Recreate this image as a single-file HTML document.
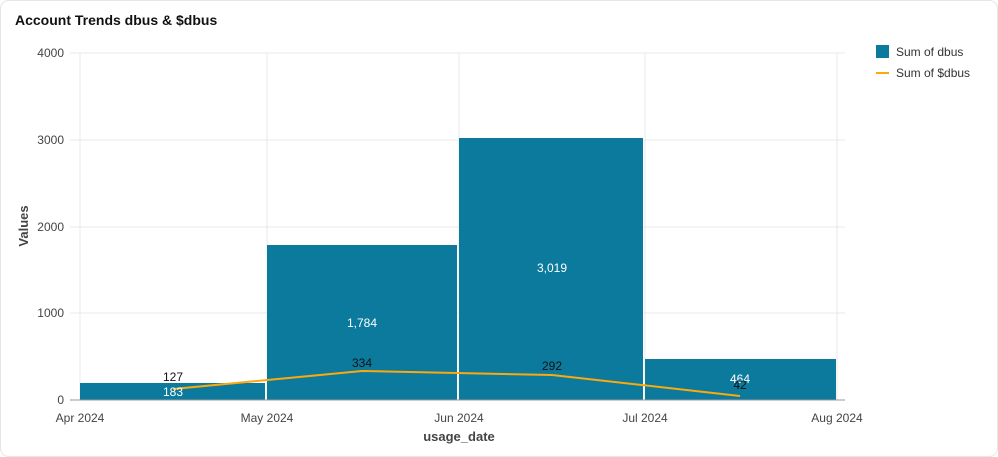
<!DOCTYPE html>
<html><head><style>
body{margin:0;background:#fff;}
svg{display:block;font-family:"Liberation Sans",sans-serif;}
</style></head><body>
<svg width="998" height="457" viewBox="0 0 998 457">
<rect x="0.5" y="0.5" width="997" height="456" rx="8" fill="#fff" stroke="#e6e6e6"/>
<text x="15" y="25" font-size="14" font-weight="bold" fill="#111">Account Trends dbus &amp; $dbus</text>
<g stroke="#e8e8e8" stroke-width="1">
<line x1="70" y1="53" x2="845" y2="53"/>
<line x1="70" y1="140" x2="845" y2="140"/>
<line x1="70" y1="227" x2="845" y2="227"/>
<line x1="70" y1="313" x2="845" y2="313"/>
<line x1="80" y1="53" x2="80" y2="400"/>
<line x1="267" y1="53" x2="267" y2="400"/>
<line x1="459" y1="53" x2="459" y2="400"/>
<line x1="645" y1="53" x2="645" y2="400"/>
<line x1="837" y1="53" x2="837" y2="400"/>
</g>
<g fill="#0b7a9d">
<rect x="80" y="383" width="185" height="17"/>
<rect x="267" y="245" width="190" height="155"/>
<rect x="459" y="138" width="184" height="262"/>
<rect x="645" y="359" width="191" height="41"/>
</g>
<line x1="70" y1="400" x2="845" y2="400" stroke="#999"/>
<g font-size="12" fill="#444" text-anchor="end">
<text x="64" y="57">4000</text><text x="64" y="144">3000</text>
<text x="64" y="231">2000</text><text x="64" y="317">1000</text><text x="64" y="404">0</text>
</g>
<g font-size="12" fill="#444" text-anchor="middle">
<text x="80" y="422">Apr 2024</text><text x="267" y="422">May 2024</text>
<text x="459" y="422">Jun 2024</text><text x="645" y="422">Jul 2024</text><text x="837" y="422">Aug 2024</text>
</g>
<text x="459" y="441" font-size="13" font-weight="bold" fill="#444" text-anchor="middle">usage_date</text>
<text transform="translate(28,226) rotate(-90)" font-size="13" font-weight="bold" fill="#444" text-anchor="middle">Values</text>
<polyline points="173,389 362,371 552,375 740,396" fill="none" stroke="#fca90f" stroke-width="2"/>
<g font-size="12" text-anchor="middle">
<text x="173" y="381" fill="#111">127</text>
<text x="173" y="396" fill="#fff">183</text>
<text x="362" y="367" fill="#111">334</text>
<text x="362" y="327" fill="#fff">1,784</text>
<text x="552" y="272" fill="#fff">3,019</text>
<text x="552" y="370" fill="#111">292</text>
<text x="740" y="383" fill="#fff">464</text>
<text x="740" y="389" fill="#111">42</text>
</g>
<rect x="876" y="45" width="13" height="13" fill="#0b7a9d"/>
<text x="896" y="56" font-size="12" fill="#333">Sum of dbus</text>
<line x1="876" y1="73" x2="889" y2="73" stroke="#fca90f" stroke-width="2"/>
<text x="896" y="77" font-size="12" fill="#333">Sum of $dbus</text>
</svg>
</body></html>
